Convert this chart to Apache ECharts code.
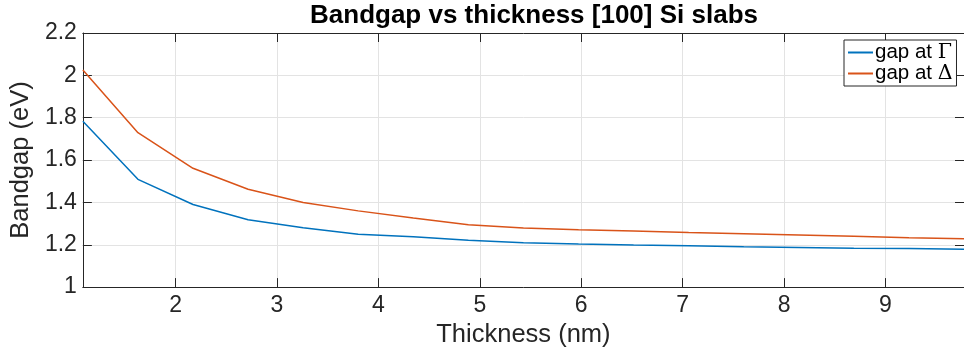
<!DOCTYPE html>
<html>
<head>
<meta charset="utf-8">
<script src="https://cdn.jsdelivr.net/npm/echarts@6/dist/echarts.min.js"></script>
<style>
html,body{margin:0;padding:0;background:#fff;}
#chart{width:964px;height:353px;}
</style>
</head>
<body>
<div id="chart"></div>
<script>
// Thickness (nm): multiples of Si lattice constant 0.543 nm
const thickness = [1.086, 1.629, 2.172, 2.715, 3.258, 3.801, 4.344, 4.887, 5.430, 5.973, 6.516, 7.059, 7.602, 8.145, 8.688, 9.231, 9.774];
const gapGamma = [1.783, 1.509, 1.390, 1.318, 1.280, 1.250, 1.238, 1.221, 1.210, 1.204, 1.199, 1.195, 1.190, 1.187, 1.184, 1.182, 1.179];
const gapDelta = [2.025, 1.729, 1.561, 1.462, 1.400, 1.360, 1.326, 1.295, 1.279, 1.271, 1.265, 1.258, 1.252, 1.246, 1.240, 1.233, 1.228];
const seriesNames = ['gap at Γ', 'gap at Δ'];
const titleText = 'Bandgap vs thickness [100] Si slabs';
const xLabel = 'Thickness (nm)';
const yLabel = 'Bandgap (eV)';

const pair = (xs, ys) => xs.map((x, i) => [x, ys[i]]);
const font = '"Liberation Sans", Arial, Helvetica, sans-serif';
const axisColor = '#262626';
const gridColor = '#e3e3e3';

const chart = echarts.init(document.getElementById('chart'), null, {renderer: 'canvas'});
const xCommon = {
  type: 'value', min: 1.086, max: 9.774, minInterval: 1, maxInterval: 1,
  axisLine: {show: true, onZero: false, lineStyle: {color: axisColor, width: 1}},
  axisTick: {show: true, inside: true, length: 9, lineStyle: {color: axisColor}},
};
const yCommon = {
  type: 'value', min: 1, max: 2.2, interval: 0.2,
  axisLine: {show: true, onZero: false, lineStyle: {color: axisColor, width: 1}},
  axisTick: {show: true, inside: true, length: 9, lineStyle: {color: axisColor}},
};
chart.setOption({
  animation: false,
  backgroundColor: '#ffffff',
  title: {
    text: titleText, left: 529, top: -2, textAlign: 'center',
    textStyle: {fontFamily: font, fontWeight: 'bold', fontSize: 26, color: '#000'}
  },
  grid: {left: 78, top: 33, right: -8, bottom: 65, containLabel: false},
  legend: {
    data: seriesNames, orient: 'vertical', left: 844, top: 40,
    width: 117, padding: [2, 4, 2, 4], itemGap: 0,
    itemWidth: 25, itemHeight: 2, icon: 'rect',
    borderColor: '#262626', borderWidth: 1, backgroundColor: '#fff',
    formatter: n => n.replace(/(Γ|Δ)/, '{g|$1}'),
    textStyle: {fontFamily: font, fontSize: 20.5, color: '#000', padding: [0, 0, 0, -3],
      rich: {g: {fontFamily: '"DejaVu Serif", "Liberation Serif", serif', fontSize: 20.5, color: '#000'}}}
  },
  xAxis: [
    Object.assign({}, xCommon, {
      position: 'bottom', name: xLabel, nameLocation: 'middle', nameGap: 30,
      nameTextStyle: {fontFamily: font, fontSize: 25.5, color: axisColor},
      axisLabel: {show: true, margin: 7, showMinLabel: false, showMaxLabel: false,
        fontFamily: font, fontSize: 23, color: axisColor},
      splitLine: {show: true, lineStyle: {color: gridColor, width: 1}}
    }),
    Object.assign({}, xCommon, {
      position: 'top', axisLabel: {show: false}, splitLine: {show: false}
    })
  ],
  yAxis: [
    Object.assign({}, yCommon, {
      position: 'left', name: yLabel, nameLocation: 'middle', nameGap: 43,
      nameTextStyle: {fontFamily: font, fontSize: 25.5, color: axisColor},
      axisLabel: {show: true, margin: 6, fontFamily: font, fontSize: 23, color: axisColor},
      splitLine: {show: true, lineStyle: {color: gridColor, width: 1}}
    }),
    Object.assign({}, yCommon, {
      position: 'right', axisLabel: {show: false}, splitLine: {show: false}
    })
  ],
  series: [
    {name: seriesNames[0], type: 'line', data: pair(thickness, gapGamma), symbol: 'none',
      lineStyle: {color: '#0072BD', width: 1.5}, itemStyle: {color: '#0072BD'}, z: 3},
    {name: seriesNames[1], type: 'line', data: pair(thickness, gapDelta), symbol: 'none',
      lineStyle: {color: '#D95319', width: 1.5}, itemStyle: {color: '#D95319'}, z: 3}
  ]
});
</script>
</body>
</html>
